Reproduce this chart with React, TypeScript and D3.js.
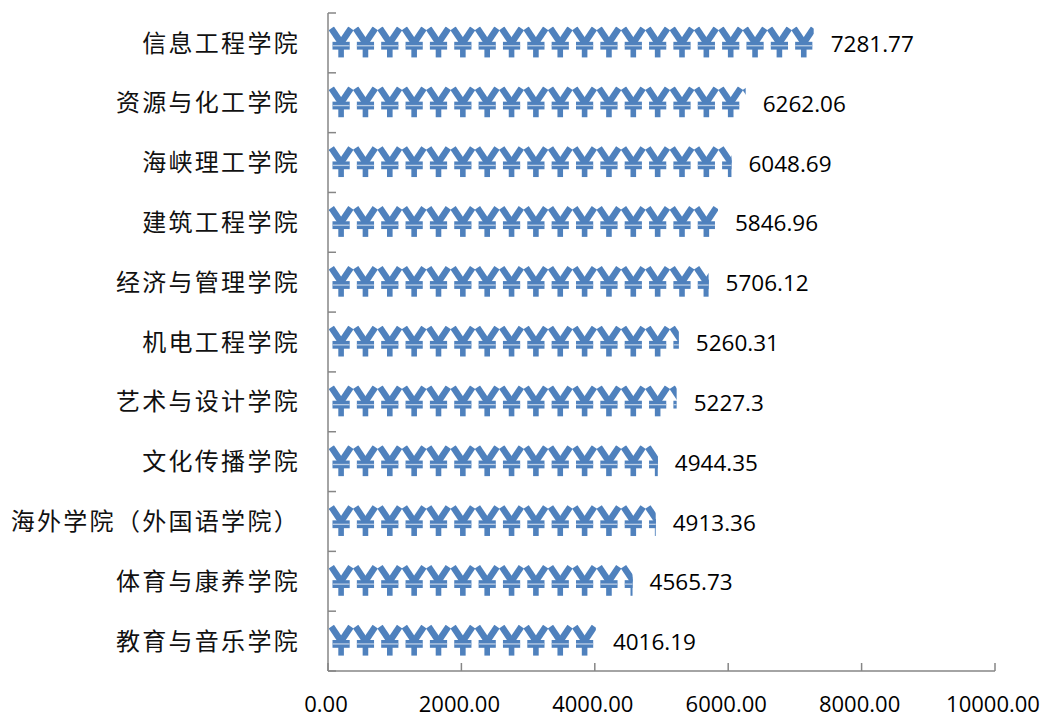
import React, { useEffect, useRef } from 'react';
import * as d3 from 'd3';

const colleges = [
  '信息工程学院',
  '资源与化工学院',
  '海峡理工学院',
  '建筑工程学院',
  '经济与管理学院',
  '机电工程学院',
  '艺术与设计学院',
  '文化传播学院',
  '海外学院（外国语学院）',
  '体育与康养学院',
  '教育与音乐学院',
];
const amounts = [7281.77, 6262.06, 6048.69, 5846.96, 5706.12, 5260.31, 5227.3, 4944.35, 4913.36, 4565.73, 4016.19];
const amountLabels = ['7281.77', '6262.06', '6048.69', '5846.96', '5706.12', '5260.31', '5227.3', '4944.35', '4913.36', '4565.73', '4016.19'];
const xTicks = [0, 2000, 4000, 6000, 8000, 10000];

const W = 1044;
const H = 717;
const BLUE = '#4F81BD';
const AXIS = '#868686';

const App: React.FC = () => {
  const svgRef = useRef<SVGSVGElement>(null);

  useEffect(() => {
    if (!svgRef.current) return;
    const svg = d3.select(svgRef.current);
    svg.selectAll('*').remove();

    const left = 328, right = 995, top = 13, bottom = 671;

    const x = d3.scaleLinear().domain([0, 10000]).range([left, right]);
    const y = d3.scaleBand<string>().domain(colleges).range([top, bottom]).paddingInner(0.515).paddingOuter(0.2575);
    const step = y.step();
    const barH = y.bandwidth();
    const glyphW = 24.35;

    const defs = svg.append('defs');

    // single yen glyph, 24 x 29 box
    const glyph = defs.append('g').attr('id', 'yen');
    glyph.append('path').attr('d', 'M1.8,0 L11.6,14.5').attr('stroke', BLUE).attr('stroke-width', 6.4).attr('fill', 'none');
    glyph.append('path').attr('d', 'M21.4,0 L11.6,14.5').attr('stroke', BLUE).attr('stroke-width', 6.4).attr('fill', 'none');
    glyph.append('rect').attr('x', 8.8).attr('y', 12).attr('width', 5.6).attr('height', 17).attr('fill', BLUE);
    glyph.append('rect').attr('x', 3).attr('y', 13.4).attr('width', 17.2).attr('height', 7.8).attr('fill', BLUE);
    glyph.append('rect').attr('x', 3).attr('y', 16.7).attr('width', 17.2).attr('height', 1.3).attr('fill', '#bccfe6');

    // bars: yen glyphs stacked along each bar, clipped at the value
    const bars = svg.append('g');
    colleges.forEach((c, i) => {
      const by = y(c)!;
      const bw = x(amounts[i]) - left - 1;
      defs.append('clipPath').attr('id', `clip-${i}`)
        .append('rect')
        .attr('x', left + 1).attr('y', by - 2)
        .attr('width', bw).attr('height', barH + 4);
      const n = Math.ceil(bw / glyphW);
      bars.append('g')
        .attr('clip-path', `url(#clip-${i})`)
        .selectAll('use')
        .data(d3.range(n))
        .enter().append('use')
        .attr('href', '#yen')
        .attr('transform', k => `translate(${left + 1.5 + k * glyphW},${by}) scale(1,${barH / 29})`);
    });

    // y axis
    const ya = svg.append('g').attr('stroke', AXIS).attr('stroke-width', 1.5);
    ya.append('line').attr('x1', left).attr('x2', left).attr('y1', top).attr('y2', bottom);
    d3.range(colleges.length + 1).forEach(k => {
      const ty = top + k * step;
      ya.append('line').attr('x1', left).attr('x2', left + 8).attr('y1', ty).attr('y2', ty);
    });

    // x axis
    const xa = svg.append('g').attr('stroke', AXIS).attr('stroke-width', 1.5);
    xa.append('line').attr('x1', left).attr('x2', right).attr('y1', bottom).attr('y2', bottom);
    xTicks.forEach(t => {
      xa.append('line').attr('x1', x(t)).attr('x2', x(t)).attr('y1', bottom).attr('y2', bottom - 8);
    });

    svg.append('g')
      .selectAll('text')
      .data(xTicks)
      .enter().append('text')
      .attr('x', d => x(d) - 2)
      .attr('y', 712)
      .attr('text-anchor', 'middle')
      .style('font-family', '"Open Sans", sans-serif')
      .style('font-size', '22px')
      .style('fill', '#000')
      .text(d => d.toFixed(2));

    // category labels
    svg.append('g')
      .selectAll('text')
      .data(colleges)
      .enter().append('text')
      .attr('x', 300)
      .attr('y', d => y(d)! + barH / 2)
      .attr('dy', '0.36em')
      .attr('text-anchor', 'end')
      .style('font-family', '"Noto Sans CJK SC", sans-serif')
      .style('font-size', '24px')
      .style('letter-spacing', '2.3px')
      .style('fill', '#111')
      .text(d => d);

    // value labels
    svg.append('g')
      .selectAll('text')
      .data(colleges)
      .enter().append('text')
      .attr('x', (d, i) => x(amounts[i]) + 17)
      .attr('y', d => y(d)! + barH / 2 + 1)
      .attr('dy', '0.36em')
      .style('font-family', '"Open Sans", sans-serif')
      .style('font-size', '22.5px')
      .style('fill', '#000')
      .text((d, i) => amountLabels[i]);
  }, []);

  return (
    <svg
      ref={svgRef}
      width={W}
      height={H}
      style={{ position: 'fixed', left: 0, top: 0, background: '#fff' }}
    />
  );
};

export default App;
